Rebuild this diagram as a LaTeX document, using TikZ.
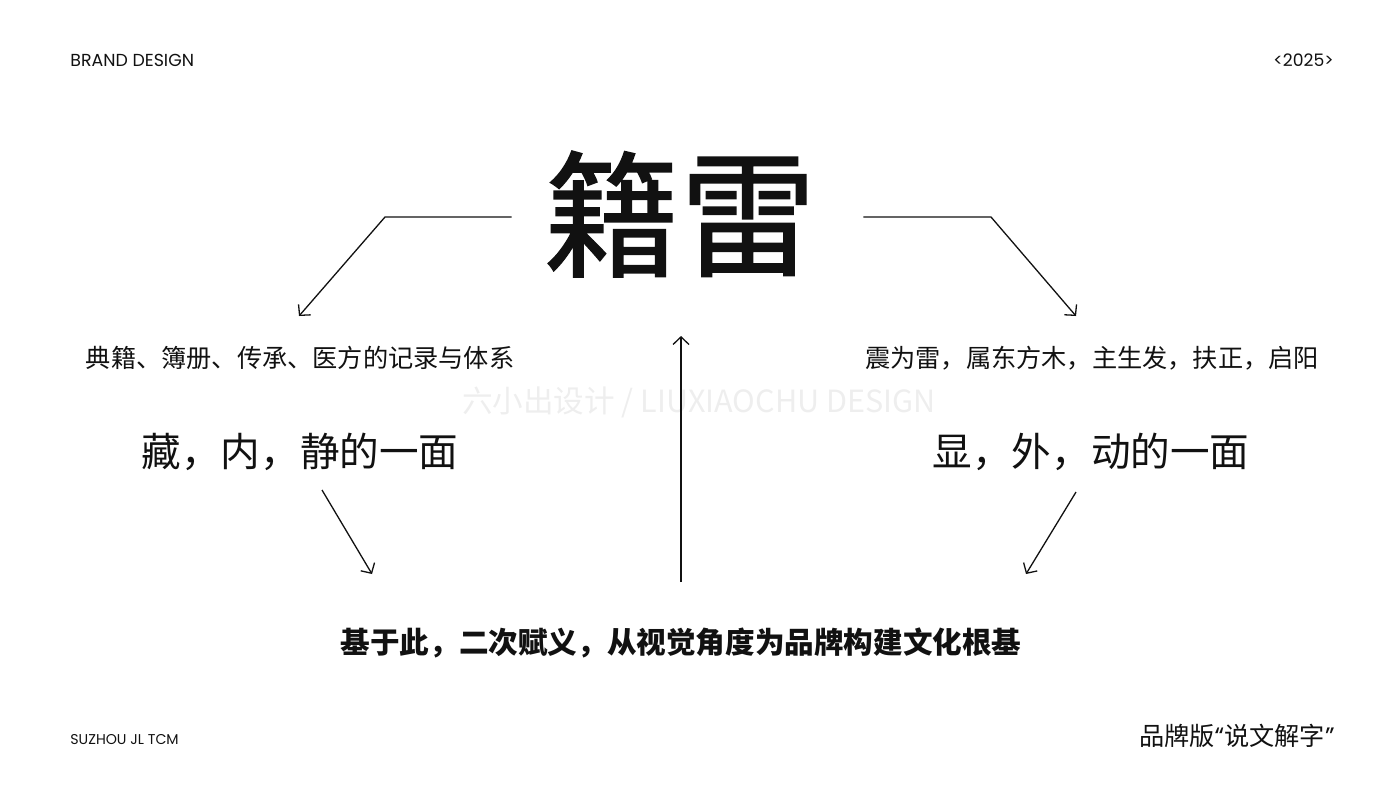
\documentclass[tikz,border=0pt]{standalone}
\usepackage{fontspec}
\usepackage{xcolor}
\usetikzlibrary{arrows.meta}
\setmainfont{Poppins}
\newfontfamily\cjk{Noto Sans CJK SC}
\newfontfamily\cjkhead[FakeBold=1.1]{Noto Sans CJK SC}
\definecolor{inkblack}{HTML}{111111}
\definecolor{markgray}{HTML}{EEEEEE}

\begin{document}
\begin{tikzpicture}[x=0.5pt,y=-0.5pt,
      tag/.style={inner sep=0pt,text=inkblack},
      cn/.style={inner sep=0pt,text=inkblack,font=\cjk\fontsize{12.6}{14}\selectfont},
      big/.style={inner sep=0pt,text=inkblack,font=\cjk\fontsize{19.8}{22}\selectfont},
      link/.style={draw=inkblack,line width=0.65pt,
                   -{Straight Barb[length=3.8pt,width=8pt]}}]
    \useasboundingbox (0,0) rectangle (1400,800);
    \node[tag,anchor=west,font=\fontsize{8.7}{10}\selectfont] (brand) at(70,60){BRAND DESIGN};
    \node[tag,anchor=east,font=\fontsize{8.6}{10}\selectfont] (year)  at(1334,60){<2025>};
    \node[tag,anchor=west,font=\fontsize{7.1}{8}\selectfont]  (city)  at(70,740){SUZHOU JL TCM};
    \node[cn,anchor=east]  (series) at(1335,736){品牌版{\rmfamily“}说文解字{\rmfamily”}};
    \node[tag,font=\cjkhead\fontsize{68}{70}\selectfont] (title) at(680,214){籍雷};
    \node[tag,text=markgray,font=\cjk\fontsize{15.3}{17}\selectfont] (mark) at(699,402){六小出设计 / LIUXIAOCHU DESIGN};
    \node[cn]  (record) at(300,358){典籍、簿册、传承、医方的记录与体系};
    \node[cn]  (thunder) at(1092,358){震为雷，属东方木，主生发，扶正，启阳};
    \node[big] (inner) at(300,452){藏，内，静的一面};
    \node[big] (outer) at(1091,452){显，外，动的一面};
    \node[tag,font=\cjk\bfseries\fontsize{14.8}{17}\selectfont] (base) at(681,643){基于此，二次赋义，从视觉角度为品牌构建文化根基};
    \coordinate (lknee) at(385,217);
    \coordinate (ltip)  at(299,316);
    \coordinate (rknee) at(991,217);
    \coordinate (rtip)  at(1076,316);
    \coordinate (ltail) at(322,490);
    \coordinate (ldown) at(372,574);
    \coordinate (rtail) at(1076,492);
    \coordinate (rdown) at(1026,574);
    \coordinate (ctail) at(681,582);
    \coordinate (cup)   at(681,336);
    \draw[link] (title.west) ++(-32,3) -- (lknee) -- (ltip);
    \draw[link] (title.east) ++(47,3) -- (rknee) -- (rtip);
    \draw[link] (ltail) -- (ldown);
    \draw[link] (rtail) -- (rdown);
    \draw[link] (ctail) -- (cup);
  \end{tikzpicture}
\end{document}
